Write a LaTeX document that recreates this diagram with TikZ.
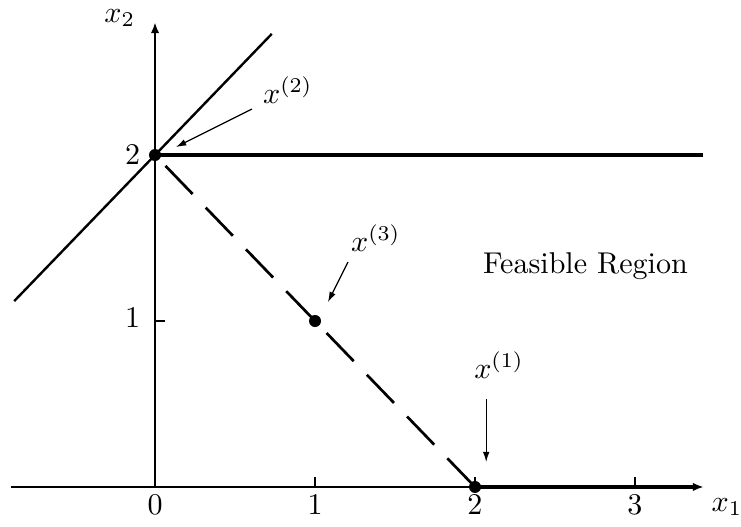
\documentclass[tikz,border=0pt]{standalone}
\usetikzlibrary{arrows.meta}

\begin{document}
\begin{tikzpicture}[x=1.87cm, y=1.94cm,
        axis/.style={line width=0.7pt, -{Latex[length=3.6pt, width=2.8pt]}},
        bound/.style={line width=1.2pt},
        pointer/.style={line width=0.4pt, -{Latex[length=3.4pt, width=2.2pt]}},
        dot/.style={circle, fill, inner sep=0pt, minimum size=4pt}]
        \useasboundingbox (-0.969,-0.241) rectangle (3.6625,2.934);

        % osy
        \coordinate (O) at (0,0);
        \coordinate (X1end) at (3.43,0);
        \coordinate (X1start) at (-0.9,0);
        \coordinate (X2end) at (0,2.80);
        \draw[axis] (X1start) -- (X1end);
        \draw[axis] (O) -- (X2end);
        \node (labX1) at (3.575,-0.12) {$x_1$};
        \node[inner sep=1pt] (labX2) at (-0.22,2.825) {$x_2$};

        % znacky a popisky
        \foreach \t in {1,2,3} {
            \draw[line width=0.6pt] (\t,0) coordinate (T\t) -- (\t,0.06);
            \node (labT\t) at (\t,-0.11) {$\t$};
        }
        \node (labT0) at (0,-0.11) {$0$};
        \draw[line width=0.6pt] (0,1) coordinate (S1) -- (0.06,1);
        \node (labS1) at (-0.14,1.02) {$1$};
        \node (labS2) at (-0.14,2) {$2$};

        % vrcholy
        \node[dot] (P1) at (2,0) {};
        \node[dot] (P2) at (0,2) {};
        \node[dot] (P3) at (1,1) {};

        % hranice oblasti
        \coordinate (L1) at (-0.88,1.12);
        \coordinate (L2) at (0.73,2.73);
        \coordinate (H) at (3.425,2);
        \coordinate (Bend) at (3.36,0);
        \draw[line width=0.8pt] (L1) -- (L2);
        \draw[bound] (P2.center) -- (H);
        \draw[bound] (P1.center) -- (Bend);
        \draw[line width=0.9pt, dash pattern=on 13pt off 6.3pt, dash phase=14.3pt] (P2.center) -- (P1.center);

        % popisky bodu
        \node (labP2) at (0.83,2.39) {$x^{(2)}$};
        \coordinate (A2s) at (0.606,2.277);
        \coordinate (A2e) at (0.131,2.048);
        \draw[pointer] (A2s) -- (A2e);

        \node (labP3) at (1.38,1.5) {$x^{(3)}$};
        \coordinate (A3s) at (1.206,1.355);
        \coordinate (A3e) at (1.081,1.114);
        \draw[pointer] (A3s) -- (A3e);

        \node (labP1) at (2.15,0.735) {$x^{(1)}$};
        \coordinate (A1s) at (2.07,0.53);
        \coordinate (A1e) at (2.07,0.15);
        \draw[pointer] (A1s) -- (A1e);

        \node (region) at (2.69,1.33) {Feasible Region};

\end{tikzpicture}
\end{document}
